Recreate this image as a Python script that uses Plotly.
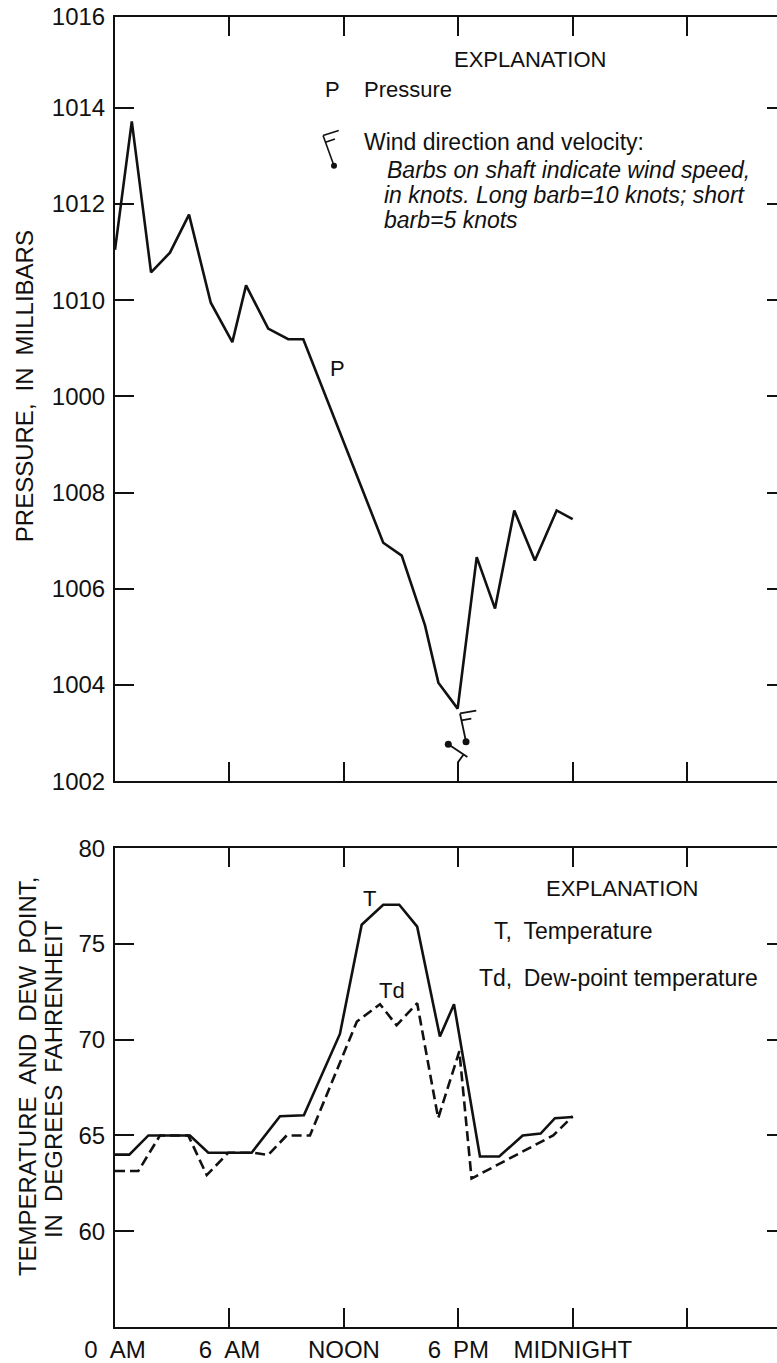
import math
import plotly.graph_objects as go

# ---------------- data ----------------
pressure_hours = [0.0, 0.88, 1.89, 2.88, 3.88, 5.02, 6.15, 6.87, 8.03, 9.08, 9.87,
                  12.75, 14.06, 15.03, 16.25, 16.95, 17.96, 18.96, 19.92, 20.93, 22.01, 23.15, 23.99]
pressure_mb = [1011.05, 1013.72, 1010.58, 1010.99, 1011.78, 1009.95, 1009.13, 1010.31, 1009.41,
               1009.19, 1009.19, 1006.28, 1004.96, 1004.69, 1003.24, 1002.05, 1001.51, 1004.66,
               1003.59, 1005.63, 1004.59, 1005.63, 1005.45]

temp_hours = [0.0, 0.75, 1.75, 3.93, 4.89, 7.16, 8.65, 9.90, 11.79, 12.93, 14.06, 14.90,
              15.84, 17.03, 17.77, 19.13, 20.14, 21.37, 22.31, 23.06, 23.99]
temp_f = [64.0, 64.0, 65.0, 65.0, 64.1, 64.1, 66.0, 66.05, 70.3, 76.0, 77.04, 77.04,
          75.9, 70.16, 71.85, 63.9, 63.9, 65.0, 65.1, 65.9, 65.96]

dew_hours = [0.0, 1.22, 2.36, 3.84, 4.81, 5.94, 7.25, 8.03, 9.0, 10.22, 12.68, 13.89,
             14.76, 15.84, 16.94, 18.05, 18.69, 21.05, 22.97, 23.99]
dew_f = [63.14, 63.14, 65.0, 65.0, 62.93, 64.1, 64.1, 63.98, 65.0, 65.0, 70.95, 71.85,
         70.75, 71.9, 65.9, 69.4, 62.75, 64.0, 65.0, 66.0]

wind_hours = [17.47, 18.40]
wind_level_mb = [1000.77, 1000.82]
wind_from_deg = [124, 348]
wind_speed_kt = [5, 15]

x_tick_vals = [0, 6, 12, 18, 24, 30]
x_tick_text = ["0\u2002AM", "6\u2002AM", "NOON", "6\u2002PM", "MIDNIGHT", ""]

P_TOP = 1015.89
p_tick_vals = [1000, 1002, 1004, 1006, 1008, 1010, 1012, 1014, P_TOP]
p_tick_text = ["1002", "1004", "1006", "1008", "1000", "1010", "1012", "1014", "1016"]

t_tick_vals = [60, 65, 70, 75, 80]
t_tick_text = ["60", "65", "70", "75", "80"]

# ---------------- layout geometry ----------------
W, H = 777, 1363
PL, PR, PT, PB = 115, 777, 17, 1330
X_RANGE = [0, 34.7]
TOP_BOTTOM_PX = 783
BOT_TOP_PX = 850

FONT = "Liberation Sans, Arial, sans-serif"
BLACK = "#111111"


def fx(px):
    return (px - PL) / (PR - PL)


def fy(py):
    return (PB - py) / (PB - PT)


fig = go.Figure()

fig.add_trace(go.Scatter(x=pressure_hours, y=pressure_mb, mode="lines",
                         line=dict(color=BLACK, width=2.6), xaxis="x2", yaxis="y2",
                         showlegend=False, hoverinfo="skip"))
fig.add_trace(go.Scatter(x=temp_hours, y=temp_f, mode="lines",
                         line=dict(color=BLACK, width=2.6), xaxis="x", yaxis="y",
                         showlegend=False, hoverinfo="skip"))
fig.add_trace(go.Scatter(x=dew_hours, y=dew_f, mode="lines",
                         line=dict(color=BLACK, width=2.6, dash="10px,5px"), xaxis="x", yaxis="y",
                         showlegend=False, hoverinfo="skip"))
fig.add_trace(go.Scatter(x=wind_hours, y=wind_level_mb, mode="markers",
                         marker=dict(color=BLACK, size=7), xaxis="x2", yaxis="y2",
                         showlegend=False, hoverinfo="skip", cliponaxis=False))
# empty traces so the right-hand tick axes get their own subplots
fig.add_trace(go.Scatter(x=[None], y=[None], mode="lines", xaxis="x2", yaxis="y3",
                         showlegend=False, hoverinfo="skip"))
fig.add_trace(go.Scatter(x=[None], y=[None], mode="lines", xaxis="x", yaxis="y4",
                         showlegend=False, hoverinfo="skip"))


def barb_segments(from_deg, speed, shaft_len, spacing=7.0, long_len=16.5, short_len=10.0, barb_angle=92):
    th = math.radians(from_deg)
    ux, uy = math.sin(th), math.cos(th)   # y-up pixel coordinates
    bt = math.radians(from_deg + barb_angle)
    bx, by = math.sin(bt), math.cos(bt)
    segs = [(0.0, 0.0, ux * shaft_len, uy * shaft_len)]
    n_long = speed // 10
    n_short = (speed % 10) // 5
    pos = shaft_len
    if n_long == 0 and n_short:
        pos = shaft_len - 0.65 * spacing
    for _ in range(n_long):
        sx, sy = ux * pos, uy * pos
        segs.append((sx, sy, sx + bx * long_len, sy + by * long_len))
        pos -= spacing
    for _ in range(n_short):
        sx, sy = ux * pos, uy * pos
        segs.append((sx, sy, sx + bx * short_len, sy + by * short_len))
        pos -= spacing
    return segs


shapes = []
for h, lvl, d, s in zip(wind_hours, wind_level_mb, wind_from_deg, wind_speed_kt):
    for (x0, y0, x1, y1) in barb_segments(d, s, 20 + 0.6 * s):
        shapes.append(dict(type="line", xref="x2", yref="y2", xsizemode="pixel", ysizemode="pixel",
                           xanchor=h, yanchor=lvl, x0=x0, y0=y0, x1=x1, y1=y1,
                           line=dict(color=BLACK, width=1.8)))

# legend barb symbol
LEG_X, LEG_Y = fx(334), fy(166)
for (x0, y0, x1, y1) in barb_segments(340, 15, 32):
    shapes.append(dict(type="line", xref="paper", yref="paper", xsizemode="pixel", ysizemode="pixel",
                       xanchor=LEG_X, yanchor=LEG_Y, x0=x0, y0=y0, x1=x1, y1=y1,
                       line=dict(color=BLACK, width=1.6)))
shapes.append(dict(type="circle", xref="paper", yref="paper", xsizemode="pixel", ysizemode="pixel",
                   xanchor=LEG_X, yanchor=LEG_Y, x0=-3, y0=-3, x1=3, y1=3,
                   fillcolor=BLACK, line=dict(color=BLACK, width=0)))

annotations = []


def txt(text, px, py, size, xanchor="left", italic=False, angle=0):
    annotations.append(dict(text=text, x=fx(px), y=fy(py), xref="paper", yref="paper",
                            xanchor=xanchor, yanchor="middle", showarrow=False, textangle=angle,
                            font=dict(family=FONT, size=size, color=BLACK,
                                      style="italic" if italic else "normal")))


# axis titles
txt("PRESSURE,\u2002IN\u2002MILLIBARS", 24, 387, 24, xanchor="center", angle=-90)
txt("TEMPERATURE\u2002AND\u2002DEW\u2002POINT,", 27.5, 1079, 24, xanchor="center", angle=-90)
txt("IN\u2002DEGREES\u2002FAHRENHEIT", 53.5, 1082, 24, xanchor="center", angle=-90)

# top explanation
txt("EXPLANATION", 530, 60, 22, xanchor="center")
txt("P", 332, 90, 22, xanchor="center")
txt("Pressure", 362, 90, 22)
txt("Wind direction and velocity:", 362, 142, 23)
txt("Barbs on shaft indicate wind speed,", 385, 170, 23, italic=True)
txt("in knots. Long barb=10 knots; short", 382, 195, 23, italic=True)
txt("barb=5 knots", 382, 220, 23, italic=True)

# bottom explanation
txt("EXPLANATION", 622, 890, 22, xanchor="center")
txt("T,\u2002Temperature", 492, 933, 23)
txt("Td,\u2002Dew-point temperature", 477, 980, 23)

# curve labels
annotations.append(dict(text="P", x=11.66, y=1008.59, xref="x2", yref="y2", showarrow=False,
                        font=dict(family=FONT, size=22, color=BLACK)))
annotations.append(dict(text="T", x=13.36, y=77.37, xref="x", yref="y", showarrow=False,
                        font=dict(family=FONT, size=22, color=BLACK)))
annotations.append(dict(text="Td", x=14.5, y=72.54, xref="x", yref="y", showarrow=False,
                        font=dict(family=FONT, size=22, color=BLACK)))

top_dom = [fy(TOP_BOTTOM_PX), 1.0]
bot_dom = [0.0, fy(BOT_TOP_PX)]

axis_common = dict(showgrid=False, zeroline=False, showline=True, linecolor=BLACK, linewidth=2,
                   ticks="inside", ticklen=19, tickwidth=2, tickcolor=BLACK,
                   tickfont=dict(family=FONT, size=24, color=BLACK))

right_ticks = dict(side="right", showticklabels=False, showgrid=False, zeroline=False,
                   showline=False, ticks="inside", ticklen=10, tickwidth=2, tickcolor=BLACK,
                   tickmode="array")

fig.update_layout(
    width=W, height=H,
    margin=dict(l=PL, r=W - PR, t=PT, b=H - PB, pad=0),
    paper_bgcolor="white", plot_bgcolor="white",
    showlegend=False,
    xaxis=dict(domain=[0, 1], anchor="y", range=X_RANGE, tickmode="array",
               tickvals=x_tick_vals, ticktext=x_tick_text, mirror="ticks", **axis_common),
    xaxis2=dict(domain=[0, 1], anchor="y2", range=X_RANGE, tickmode="array",
                tickvals=x_tick_vals, showticklabels=False, mirror="ticks", **axis_common),
    yaxis=dict(domain=bot_dom, anchor="x", range=[55, 80], tickmode="array",
               tickvals=t_tick_vals, ticktext=t_tick_text, ticklabelstandoff=3, **axis_common),
    yaxis2=dict(domain=top_dom, anchor="x2", range=[1000, P_TOP], tickmode="array",
                tickvals=p_tick_vals, ticktext=p_tick_text, ticklabelstandoff=3, **axis_common),
    yaxis3=dict(overlaying="y2", anchor="x2", range=[1000, P_TOP],
                tickvals=p_tick_vals[1:-1], **right_ticks),
    yaxis4=dict(overlaying="y", anchor="x", range=[55, 80],
                tickvals=t_tick_vals[:-1], **right_ticks),
    shapes=shapes,
    annotations=annotations,
)

fig.write_html("out.html", config=dict(displayModeBar=False))
